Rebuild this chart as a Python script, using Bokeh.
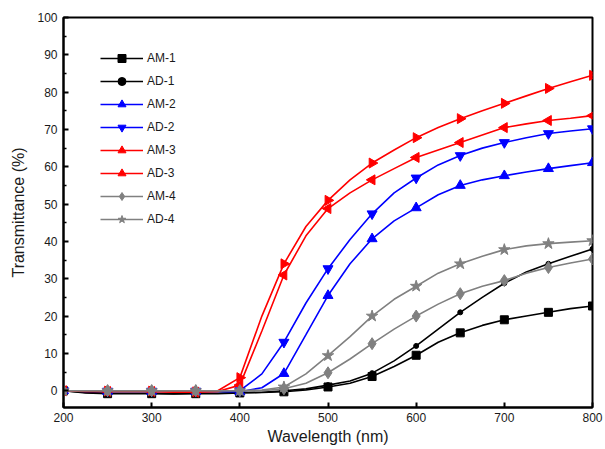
import numpy as np
from bokeh.plotting import figure
from bokeh.models import Range1d, Legend, LegendItem, FixedTicker
from bokeh.embed import file_html
from bokeh.resources import INLINE

wavelength = [200, 225, 250, 275, 300, 325, 350, 375, 400, 425, 450, 475, 500,
              525, 550, 575, 600, 625, 650, 675, 700, 725, 750, 775, 800]

am1 = [0, -0.6, -0.8, -0.8, -0.8, -0.9, -0.8, -0.8, -0.6, -0.5, -0.3, 0.2, 1.0,
       2.0, 3.8, 6.5, 9.5, 13.0, 15.5, 17.5, 19.0, 20.0, 21.0, 22.0, 22.7]
ad1 = [0, -0.5, -0.7, -0.7, -0.7, -0.8, -0.7, -0.7, -0.5, -0.4, 0.0, 0.5, 1.5,
       2.6, 4.7, 8.0, 12.0, 16.5, 21.0, 25.0, 28.8, 31.8, 34.0, 36.0, 38.0]
am2 = [0, -0.2, -0.2, -0.2, -0.2, -0.2, -0.2, -0.2, -0.3, 0.8, 4.6, 15.0, 25.5,
       34.0, 40.7, 45.5, 49.0, 52.5, 55.0, 56.5, 57.6, 58.6, 59.5, 60.3, 61.1]
ad2 = [0, -0.1, -0.1, -0.1, -0.1, -0.1, -0.1, -0.1, 0.0, 4.5, 13.0, 23.5, 32.7,
       40.5, 47.4, 53.0, 57.0, 60.5, 63.0, 65.0, 66.5, 67.8, 68.9, 69.6, 70.2]
am3 = [0, -0.2, -0.2, -0.2, -0.2, -0.4, -0.4, -0.2, 1.5, 16.0, 31.0, 41.5, 48.8,
       53.0, 56.5, 59.5, 62.5, 64.5, 66.5, 68.5, 70.5, 71.5, 72.4, 73.0, 73.7]
ad3 = [0, -0.1, -0.1, -0.1, -0.1, -0.3, -0.3, 0.0, 3.5, 20.0, 34.0, 44.0, 51.0,
       56.5, 61.0, 64.5, 67.8, 70.5, 72.9, 75.0, 77.0, 79.0, 81.0, 82.8, 84.5]
am4 = [0, 0.0, 0.0, 0.0, 0.0, 0.0, 0.0, 0.0, 0.0, 0.0, 0.5, 2.0, 4.8,
       8.5, 12.6, 16.5, 20.0, 23.2, 26.0, 28.0, 29.5, 31.5, 33.0, 34.2, 35.3]
ad4 = [0, 0.0, 0.0, 0.0, 0.0, 0.0, 0.0, 0.0, 0.0, 0.2, 1.0, 4.5, 9.4,
       14.5, 20.0, 24.5, 28.0, 31.5, 34.0, 36.0, 37.8, 38.8, 39.4, 39.8, 40.2]

labels = ["AM-1", "AD-1", "AM-2", "AD-2", "AM-3", "AD-3", "AM-4", "AD-4"]
x_ticks = [200, 300, 400, 500, 600, 700, 800]
y_ticks = [0, 10, 20, 30, 40, 50, 60, 70, 80, 90, 100]
y_minor = [5, 15, 25, 35, 45, 55, 65, 75, 85, 95]

series = [am1, ad1, am2, ad2, am3, ad3, am4, ad4]
styles = [
    ("#000000", "square", 8, 0.0),
    ("#000000", "circle", 5, 0.0),
    ("#0000ff", "triangle", 10, 0.0),
    ("#0000ff", "inverted_triangle", 10, 0.0),
    ("#ff0000", "triangle", 10, np.pi / 2),
    ("#ff0000", "triangle", 10, -np.pi / 2),
    ("#808080", "diamond", 12, 0.0),
    ("#808080", "star", 12, 0.0),
]

FONT = "Liberation Sans"
TXT = "#1a1a1a"

p = figure(width=605, height=449, output_backend="svg", toolbar_location=None,
           x_range=Range1d(200, 800), y_range=Range1d(-4.5, 100),
           min_border_left=63, min_border_right=13, min_border_top=17,
           min_border_bottom=42)
p.xgrid.visible = False
p.ygrid.visible = False
p.outline_line_color = "black"
p.outline_line_width = 2
p.background_fill_color = "white"

p.xaxis.ticker = FixedTicker(ticks=x_ticks)
p.yaxis.ticker = FixedTicker(ticks=y_ticks, minor_ticks=y_minor)
for ax in (p.xaxis, p.yaxis):
    ax.axis_line_width = 2
    ax.axis_line_color = "black"
    ax.major_tick_in = 5
    ax.major_tick_out = 0
    ax.major_tick_line_width = 2
    ax.minor_tick_in = 3
    ax.minor_tick_out = 0
    ax.minor_tick_line_width = 1.5
    ax.major_label_text_font = FONT
    ax.major_label_text_font_size = "12px"
    ax.major_label_text_color = TXT
    ax.axis_label_text_font = FONT
    ax.axis_label_text_font_size = "16px"
    ax.axis_label_text_font_style = "normal"
    ax.axis_label_text_color = TXT
p.xaxis.minor_tick_line_color = None
p.xaxis.major_label_standoff = 5
p.xaxis.axis_label_standoff = 3
p.yaxis.major_label_standoff = 6
p.yaxis.axis_label_standoff = 7
p.xaxis.axis_label = "Wavelength (nm)"
p.yaxis.axis_label = "Transmittance (%)"

items = []
for lab, ys, (col, mk, sz, ang) in zip(labels, series, styles):
    lr = p.line(wavelength, ys, line_color=col, line_width=1.6)
    mx = wavelength[::2]
    my = ys[::2]
    sr = p.scatter(mx, my, marker=mk, size=sz, angle=ang,
                   fill_color=col, line_color=col)
    items.append(LegendItem(label=lab, renderers=[lr, sr]))

legend = Legend(items=items, location=(37, 178), padding=0, margin=0, spacing=3,
                glyph_height=20, glyph_width=43, label_height=20, label_standoff=4,
                label_text_font=FONT, label_text_font_size="12px",
                label_text_color=TXT, border_line_color=None,
                background_fill_alpha=0)
p.add_layout(legend)

open("out.html", "w").write(file_html(p, INLINE))
